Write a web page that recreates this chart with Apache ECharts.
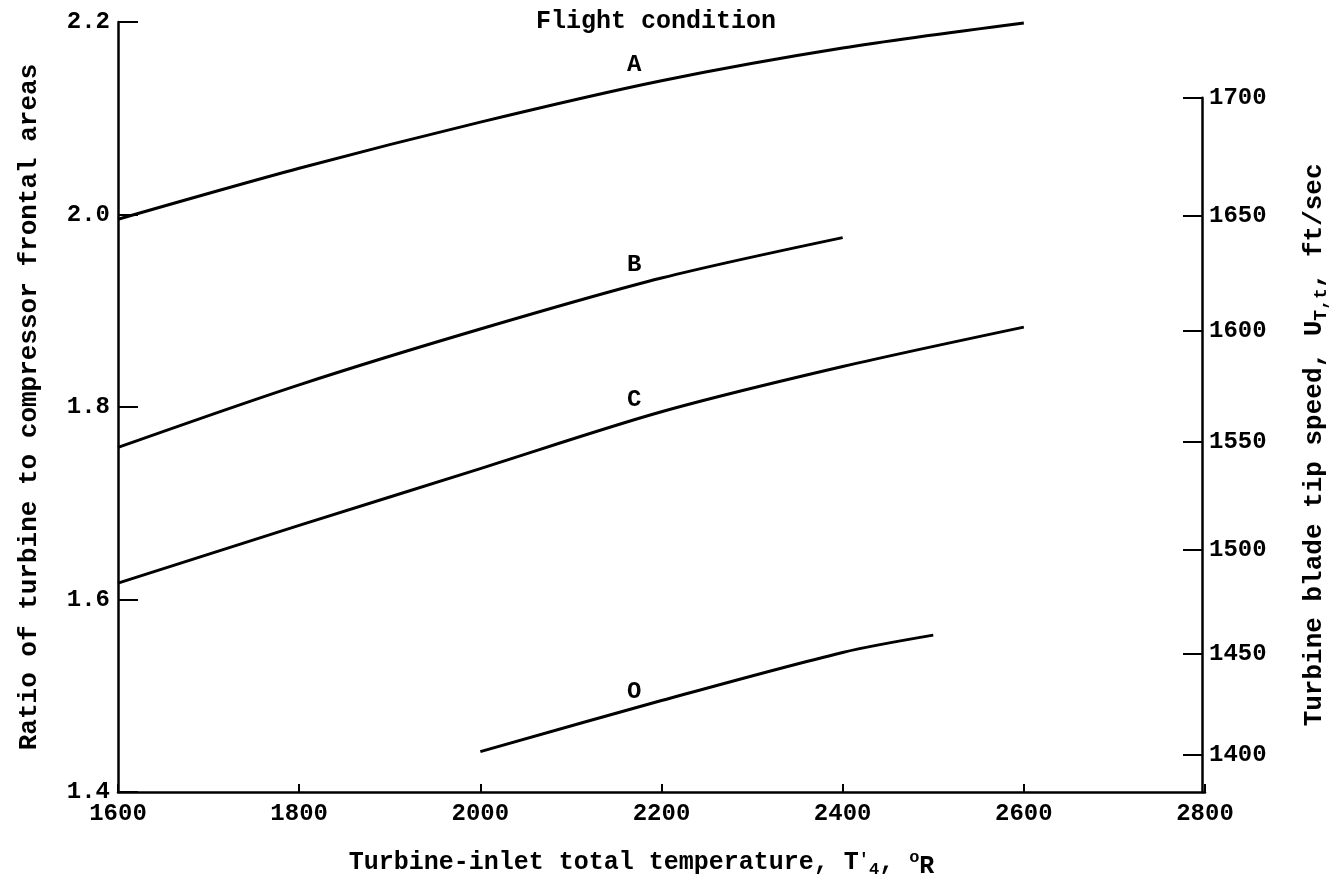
<!DOCTYPE html>
<html>
<head>
<meta charset="utf-8">
<script src="https://cdn.jsdelivr.net/npm/echarts@6/dist/echarts.min.js"></script>
<style>
  html, body { margin: 0; padding: 0; background: #fff; }
  #chart { width: 1338px; height: 889px; }
</style>
</head>
<body>
<div id="chart"></div>
<script>
// flight conditions, turbine-inlet temperature (deg R) vs area ratio
const tempA = [1600, 1800, 2000, 2200, 2400, 2600];
const ratioA = [1.995, 2.048, 2.096, 2.139, 2.173, 2.199];

const tempB = [1600, 1800, 2000, 2200, 2400];
const ratioB = [1.758, 1.823, 1.881, 1.934, 1.976];

const tempC = [1600, 1800, 2000, 2200, 2400, 2600];
const ratioC = [1.617, 1.677, 1.736, 1.795, 1.842, 1.883];

const tempO = [2000, 2200, 2400, 2500];
const ratioO = [1.442, 1.495, 1.545, 1.563];

// curve letters (where they sit on the chart)
const labelNames = ["A", "B", "C", "O"];
const labelTemps = [2170, 2170, 2170, 2170];
const labelRatios = [2.155, 1.948, 1.807, 1.504];

// right axis: tip speed, ratio = K * U^2
const speedTicks = [1400, 1450, 1500, 1550, 1600, 1650, 1700];
const K = 7.34e-7;

const FONT = "Liberation Mono";
const W = "bold";
const yMin = 1.4, yMax = 2.2;
const gridTop = 22, gridBottom = 97, gridLeft = 118, gridRight = 133;
const plotH = 889 - gridTop - gridBottom;
// the right axis only runs up to the 1700 tick
const speedTop = K * 1700 * 1700;
const rightTop = gridTop + (yMax - speedTop) / (yMax - yMin) * plotH;

function pairs(xs, ys) {
  return xs.map((x, i) => [x, ys[i]]);
}

const myChart = echarts.init(document.getElementById("chart"));

const lineStyle = { color: "#000", width: 3 };
function curve(name, xs, ys) {
  return {
    name: name,
    type: "line",
    data: pairs(xs, ys),
    smooth: 0.3,
    showSymbol: false,
    lineStyle: lineStyle,
    silent: true,
  };
}

const option = {
  animation: false,
  backgroundColor: "#fff",
  title: {
    text: "Flight condition",
    left: 536,
    top: 9,
    padding: 0,
    textStyle: { fontFamily: FONT, fontSize: 25, fontWeight: W, color: "#000" },
  },
  grid: [
    { left: gridLeft, right: gridRight, top: gridTop, bottom: gridBottom },
    { left: gridLeft, right: gridRight, top: rightTop, bottom: gridBottom },
  ],
  xAxis: [
    {
      type: "value",
      gridIndex: 0,
      min: 1600,
      max: 2800,
      interval: 200,
      name: "Turbine-inlet total temperature, T{pr|'}{sub|4}, {sup|o}{r|R}",
      nameLocation: "middle",
      nameGap: 54,
      nameTextStyle: {
        fontFamily: FONT,
        fontSize: 25,
        fontWeight: W,
        color: "#000",
        padding: [0, 40, 0, 0],
        rich: {
          sub: { fontFamily: FONT, fontWeight: W, fontSize: 17, padding: [14, 0, 0, 0] },
          pr: { fontFamily: FONT, fontWeight: W, fontSize: 17, padding: [0, 0, 6, 0] },
          sup: { fontFamily: FONT, fontWeight: W, fontSize: 17, padding: [0, 0, 10, 0] },
          r: { fontFamily: FONT, fontWeight: W, fontSize: 25, padding: [8, 0, 0, 0] },
        },
      },
      axisLine: { show: true, lineStyle: { color: "#000", width: 2.5 } },
      axisTick: { show: true, inside: true, length: 8, lineStyle: { color: "#000", width: 2 } },
      axisLabel: {
        fontFamily: FONT,
        fontSize: 24,
        fontWeight: W,
        color: "#000",
        margin: 10,
        formatter: (v) => String(v),
      },
      splitLine: { show: false },
    },
    { type: "value", gridIndex: 1, min: 1600, max: 2800, show: false },
  ],
  yAxis: [
    {
      type: "value",
      gridIndex: 0,
      min: yMin,
      max: yMax,
      interval: 0.2,
      name: "Ratio of turbine to compressor frontal areas",
      nameLocation: "middle",
      nameGap: 76,
      nameRotate: 90,
      nameTextStyle: { fontFamily: FONT, fontSize: 26, fontWeight: W, color: "#000" },
      axisLine: { show: true, lineStyle: { color: "#000", width: 2.5 } },
      axisTick: { show: true, inside: true, length: 20, lineStyle: { color: "#000", width: 2 } },
      axisLabel: {
        fontFamily: FONT,
        fontSize: 24,
        fontWeight: W,
        color: "#000",
        margin: 8,
        formatter: (v) => v.toFixed(1),
      },
      splitLine: { show: false },
    },
    {
      type: "value",
      gridIndex: 1,
      position: "right",
      min: yMin,
      max: speedTop,
      name: "Turbine blade tip speed, U{sub|T,t}, ft/sec",
      nameLocation: "middle",
      nameGap: 96,
      nameRotate: 90,
      nameTextStyle: {
        fontFamily: FONT,
        fontSize: 26,
        fontWeight: W,
        color: "#000",
        rich: { sub: { fontFamily: FONT, fontWeight: W, fontSize: 18, padding: [14, 0, 0, 0] } },
      },
      axisLine: { show: true, lineStyle: { color: "#000", width: 2.5 } },
      axisTick: {
        show: true,
        inside: true,
        length: 19,
        customValues: speedTicks.map((u) => K * u * u),
        lineStyle: { color: "#000", width: 2 },
      },
      axisLabel: {
        fontFamily: FONT,
        fontSize: 24,
        fontWeight: W,
        color: "#000",
        margin: 7,
        customValues: speedTicks.map((u) => K * u * u),
        formatter: (v) => String(Math.round(Math.sqrt(v / K))),
      },
      splitLine: { show: false },
    },
  ],
  series: [
    curve("A", tempA, ratioA),
    curve("B", tempB, ratioB),
    curve("C", tempC, ratioC),
    curve("O", tempO, ratioO),
    {
      name: "labels",
      type: "scatter",
      symbolSize: 0,
      silent: true,
      itemStyle: { color: "#000", opacity: 1 },
      data: labelNames.map((n, i) => [labelTemps[i], labelRatios[i], n]),
      label: {
        show: true,
        position: "inside",
        formatter: (p) => p.data[2],
        fontFamily: FONT,
        fontSize: 24,
        fontWeight: W,
        color: "#000",
        textBorderWidth: 0,
        opacity: 1,
      },
    },
  ],
};

myChart.setOption(option);
</script>
</body>
</html>
